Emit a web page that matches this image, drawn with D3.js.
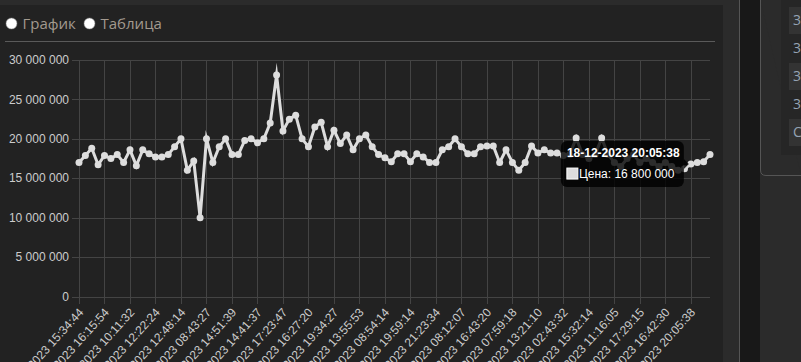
<!DOCTYPE html>
<html>
  <head>
    <meta charset="utf-8">
    <script src="https://d3js.org/d3.v7.min.js"></script>
    <style>
      body {
        margin: 0;
        background: #2b2b2b;
        overflow: hidden;
      }
      .axis-label {
        font-family: "Liberation Sans", Arial, sans-serif;
        font-size: 12px;
        fill: #cccccc;
      }
      .radio-label {
        font-family: "Open Sans", "Noto Sans", sans-serif;
        font-size: 15px;
        fill: #a39a8f;
      }
      .tip-text {
        font-family: "Liberation Sans", Arial, sans-serif;
        font-size: 12px;
        fill: #ffffff;
      }
    </style>
  </head>
  <body>
    <svg id="page" width="801" height="362"></svg>

    <script type="text/javascript">
      // Prices, one per listing (100 points)
      var prices = [
        17000000, 17900000, 18800000, 16700000, 17900000, 17500000, 18000000, 17000000, 18600000, 16600000,
        18600000, 18100000, 17700000, 17700000, 18000000, 19000000, 20000000, 16000000, 17200000, 10000000,
        20000000, 17000000, 19000000, 20000000, 18000000, 18000000, 19800000, 20000000, 19500000, 20000000,
        22000000, 28100000, 21000000, 22500000, 23000000, 20000000, 19000000, 21500000, 22100000, 19000000,
        21100000, 19400000, 20500000, 18600000, 20000000, 20500000, 19000000, 18000000, 17600000, 17100000,
        18100000, 18100000, 17100000, 18100000, 17700000, 17000000, 17000000, 18600000, 19000000, 20000000,
        19000000, 18100000, 18100000, 19000000, 19100000, 19100000, 17000000, 18600000, 17000000, 16000000,
        17000000, 19100000, 18200000, 18600000, 18200000, 18200000, 17900000, 18000000, 20100000, 18000000,
        17500000, 18000000, 20100000, 18000000, 17000000, 16500000, 17500000, 18000000, 17000000, 17500000,
        17000000, 16500000, 17000000, 16500000, 16000000, 16200000, 16800000, 17000000, 17100000, 18000000
      ];

      // Date labels shown under the axis (every 4th listing)
      var tickLabels = [
        "05-10-2023 15:34:44", "09-10-2023 16:15:54", "12-10-2023 10:11:32", "16-10-2023 12:22:24",
        "19-10-2023 12:48:14", "23-10-2023 08:43:27", "26-10-2023 14:51:39", "30-10-2023 14:41:37",
        "02-11-2023 17:23:47", "06-11-2023 16:27:20", "09-11-2023 19:34:27", "13-11-2023 13:55:53",
        "16-11-2023 08:54:14", "20-11-2023 19:59:14", "23-11-2023 21:23:34", "27-11-2023 08:12:07",
        "30-11-2023 16:43:20", "04-12-2023 07:59:18", "06-12-2023 13:21:10", "08-12-2023 02:43:32",
        "11-12-2023 15:32:14", "13-12-2023 11:16:05", "14-12-2023 17:29:15", "16-12-2023 16:42:30",
        "18-12-2023 20:05:38"
      ];
      var tickStep = 4;

      var yTicks = [0, 5000000, 10000000, 15000000, 20000000, 25000000, 30000000];

      // Hovered listing in the tooltip
      var hoverIndex = 96;
      var seriesName = "Цена";

      var radioLabels = ["График", "Таблица"];
      var sideRows = ["3", "3", "3", "3", "C"];

      var svg = d3.select("#page");
      var fmt = function(v) { return d3.format(",")(v).replace(/,/g, " "); };

      // ---- page panels ----
      svg.append("rect").attr("x", 0).attr("y", 5).attr("width", 723).attr("height", 357).attr("fill", "#222222");
      svg.append("rect").attr("x", 740).attr("y", 0).attr("width", 20).attr("height", 362).attr("fill", "#181818");
      svg.append("line").attr("x1", 739.5).attr("x2", 739.5).attr("y1", 0).attr("y2", 362).attr("stroke", "#555");
      svg.append("path")
         .attr("d", "M760.5,0 V170 Q760.5,175.5 766,175.5 H801")
         .attr("fill", "#2b2b2b").attr("stroke", "#555");
      svg.append("rect").attr("x", 781).attr("y", 0).attr("width", 20).attr("height", 155).attr("fill", "#262626");

      var side = svg.append("g");
      sideRows.forEach(function(t, i) {
        var cy = 20 + i * 28;
        if (i % 2 === 0) {
          side.append("rect").attr("x", 789).attr("y", cy - 13).attr("width", 12).attr("height", 27).attr("fill", "#333");
        }
        side.append("text").attr("x", 793).attr("y", cy + 5)
            .style("font-family", "'Open Sans', sans-serif").style("font-size", "14px")
            .attr("fill", "#95a3b3").text(t);
      });

      // ---- radio buttons ----
      var radioX = [11.5, 89.5];
      radioLabels.forEach(function(t, i) {
        svg.append("circle").attr("cx", radioX[i]).attr("cy", 23.5).attr("r", 5.5)
           .attr("fill", "#ffffff").attr("stroke", "#888").attr("stroke-width", 0.5);
        svg.append("text").attr("class", "radio-label")
           .attr("x", radioX[i] + 11).attr("y", 28.5).text(t);
      });
      svg.append("line").attr("x1", 5).attr("x2", 715).attr("y1", 41.5).attr("y2", 41.5)
         .attr("stroke", "#5a5a5a");

      // ---- scales ----
      var x = d3.scaleLinear().domain([0, prices.length - 1]).range([79, 710]);
      var y = d3.scaleLinear().domain([0, 30000000]).range([296.5, 60]);
      var crisp = function(v) { return Math.round(v) + 0.5; };

      var grid = svg.append("g").attr("stroke", "#444444").attr("stroke-width", 1);

      // horizontal grid + y ticks
      yTicks.forEach(function(v) {
        grid.append("line").attr("x1", 72).attr("x2", 710)
            .attr("y1", crisp(y(v))).attr("y2", crisp(y(v)));
        svg.append("text").attr("class", "axis-label")
           .attr("x", 69).attr("y", y(v)).attr("dy", "0.35em")
           .attr("text-anchor", "end").text(fmt(v));
      });

      // vertical grid + x ticks
      tickLabels.forEach(function(t, k) {
        var xi = x(k * tickStep);
        grid.append("line").attr("x1", crisp(xi)).attr("x2", crisp(xi))
            .attr("y1", 60).attr("y2", 304);
        svg.append("text").attr("class", "axis-label")
           .attr("text-anchor", "end").attr("dy", "0.35em")
           .attr("transform", "translate(" + (xi + 2) + ",310) rotate(-48)")
           .text(t);
      });

      // ---- price line ----
      var line = d3.line()
          .x(function(d, i) { return x(i); })
          .y(function(d) { return y(d); });

      svg.append("path")
         .datum(prices)
         .attr("d", line)
         .attr("fill", "none")
         .attr("stroke", "#dddddd")
         .attr("stroke-width", 3)
         .attr("stroke-linejoin", "miter")
         .attr("stroke-miterlimit", 10);

      svg.append("g").selectAll("circle")
         .data(prices).enter()
         .append("circle")
         .attr("cx", function(d, i) { return x(i); })
         .attr("cy", function(d) { return y(d); })
         .attr("r", 3.5)
         .attr("fill", "#dddddd");

      // ---- tooltip ----
      var px = x(hoverIndex), py = y(prices[hoverIndex]);
      var tw = 123, th = 46;
      var tx = px - 7 - tw, ty = py - th / 2;
      var tip = svg.append("g");
      tip.append("rect").attr("x", tx).attr("y", ty).attr("width", tw).attr("height", th)
         .attr("rx", 6).attr("fill", "rgba(0,0,0,0.8)");
      tip.append("path")
         .attr("d", "M" + (tx + tw) + "," + (py - 5) + " L" + (tx + tw + 5) + "," + py + " L" + (tx + tw) + "," + (py + 5) + "Z")
         .attr("fill", "rgba(0,0,0,0.8)");
      tip.append("text").attr("class", "tip-text").style("font-weight", "bold")
         .attr("x", tx + 6).attr("y", ty + 16).text(tickLabels[hoverIndex / tickStep]);
      tip.append("rect").attr("x", tx + 6).attr("y", ty + 27).attr("width", 11).attr("height", 11)
         .attr("fill", "#dddddd").attr("stroke", "#ffffff");
      tip.append("text").attr("class", "tip-text")
         .attr("x", tx + 18).attr("y", ty + 37).text(seriesName + ": " + fmt(prices[hoverIndex]));
    </script>
  </body>
</html>
